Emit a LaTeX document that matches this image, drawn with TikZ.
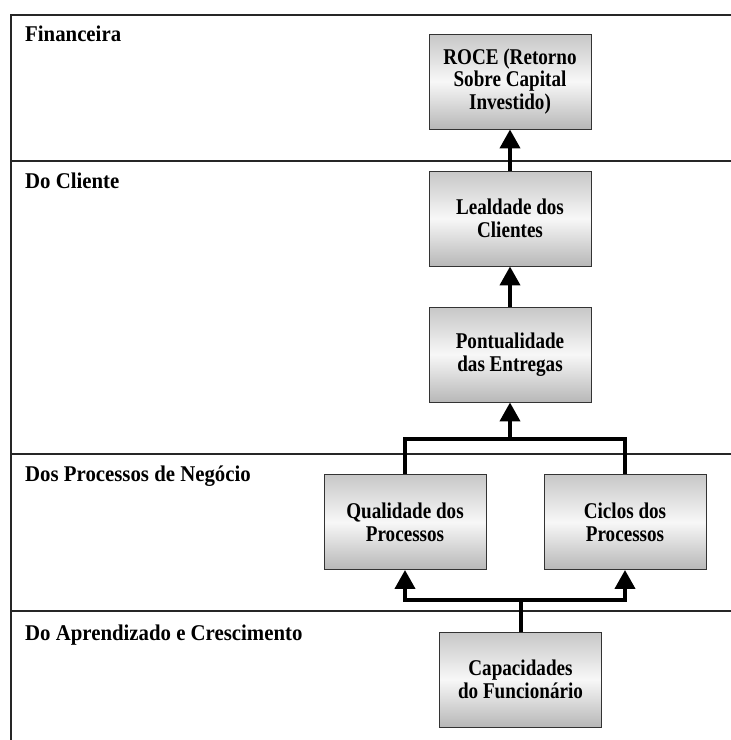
\documentclass[tikz,border=0pt]{standalone}
\usepackage{fontspec}
\setmainfont{Liberation Serif}
\newfontfamily\lanefont{Liberation Serif}[FakeStretch=0.925]
\newfontfamily\goalfont{Liberation Serif}[FakeStretch=0.85]
\usetikzlibrary{arrows.meta}
\begin{document}
\begin{tikzpicture}[x=1pt,y=-1pt,
  frame/.style={line width=1.6pt,draw=black!85},
  lane/.style={anchor=base west,inner sep=0pt,font=\lanefont\fontsize{22.5}{23}\selectfont\bfseries},
  goal/.style={draw=black!80,line width=0.9pt,minimum width=162pt,minimum height=95pt,
    inner sep=0pt,align=center,top color=black!22,bottom color=black!28,middle color=black!3,
    font=\goalfont\fontsize{22.5}{22.7}\selectfont\bfseries},
  link/.style={line width=4pt,draw=black},
  conn/.style={link,-{Triangle[width=20pt,length=19pt]}}]
\useasboundingbox (0,0) rectangle (731,740);
\fill[white] (0,0) rectangle (731,740);

% perspective lanes
\draw[frame] (731,14.7) -- (11,14.7) -- (11,740);
\draw[frame] (11,161) -- (731,161);
\draw[frame] (11,454) -- (731,454);
\draw[frame] (11,611) -- (731,611);
\node[lane] (lfin) at (25,41) {Financeira};
\node[lane] (lcli) at (25,188) {Do Cliente};
\node[lane] (lpro) at (25,481) {Dos Processos de Negócio};
\node[lane] (lapr) at (25,640) {Do Aprendizado e Crescimento};

% objectives
\node[goal] (roce) at (510,81.5) {ROCE (Retorno\\Sobre Capital\\Investido)};
\node[goal] (leal) at (510,218.5) {Lealdade dos\\Clientes};
\node[goal] (pont) at (510,354.5) {Pontualidade\\das Entregas};
\node[goal] (qual) at (405,522) {Qualidade dos\\Processos};
\node[goal] (cicl) at (625,522) {Ciclos dos\\Processos};
\node[goal] (capa) at (520.5,679.5) {Capacidades\\do Funcionário};

% cause-and-effect links
\coordinate (jp) at (510,439);
\coordinate (jc) at (520.5,600);
\draw[conn] (leal.north) -- (roce.south);
\draw[conn] (pont.north) -- (leal.south);
\draw[link] (qual.north) |- (jp) -| (cicl.north);
\draw[conn] (jp) -- (pont.south);
\draw[link] (capa.north) -- (jc);
\draw[conn] (jc) -| (qual.south);
\draw[conn] (jc) -| (cicl.south);
\end{tikzpicture}
\end{document}
